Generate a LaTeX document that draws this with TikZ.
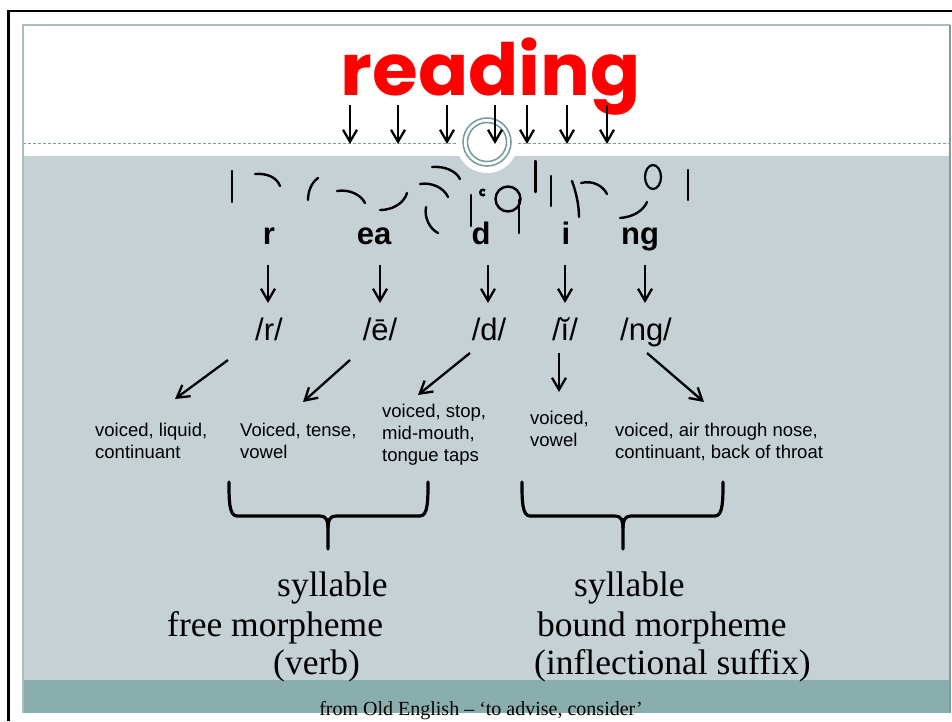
\documentclass[tikz,border=0pt]{standalone}
\usepackage{fontspec}
\setmainfont{Liberation Serif}
\newfontfamily\arialf{Liberation Sans}
\newfontfamily\popf{Poppins}
\usetikzlibrary{arrows.meta}
\definecolor{bodygray}{RGB}{198,209,214}
\definecolor{bandteal}{RGB}{138,173,173}
\definecolor{ringteal}{RGB}{122,158,159}
\definecolor{edgegray}{RGB}{172,188,192}
\definecolor{wordred}{RGB}{255,0,0}
\begin{document}
\begin{tikzpicture}[x=1pt,y=-1pt,
  arr/.style={line width=2.3pt, -{Straight Barb[length=12pt,width=14pt,line width=2.3pt]}},
  scrib/.style={line width=2.4pt, line cap=round},
  bracestroke/.style={line width=3.2pt, line cap=round, line join=round},
  letter/.style={font=\arialf\bfseries\fontsize{31}{31}\selectfont, anchor=base, inner sep=0pt},
  phon/.style={font=\arialf\fontsize{31}{31}\selectfont, anchor=base, inner sep=0pt},
  desc/.style={font=\arialf\fontsize{18.5}{22}\selectfont, anchor=base west, align=left, inner sep=0pt},
  big/.style={font=\fontsize{35.5}{35.5}\selectfont, anchor=base west, inner sep=0pt},
]
\useasboundingbox (0,0) rectangle (952,721);
\fill[white] (0,0) rectangle (952,721);
% slide background
\fill[bodygray] (23,156) rectangle (950,680);
\fill[bandteal] (23,680) rectangle (950,713);
\draw[ringteal, dash pattern=on 3pt off 2pt, line width=0.8pt] (23,143) -- (950,143);
\fill[white] (487,142) circle (31);
\draw[ringteal, line width=1.6pt] (487,142) circle (24);
\draw[ringteal, line width=1.6pt] (487,142) circle (19.5);
\draw[edgegray, line width=1.2pt] (23,713) -- (23,25) -- (950,25);
\draw[ringteal, line width=1.5pt] (950,25) -- (950,713);
\draw[black, line width=2.5pt] (8.5,721) -- (8.5,11) -- (952,11);

% title word
\node[anchor=base, inner sep=0pt, text=wordred, font=\popf\bfseries\fontsize{72}{72}\selectfont] (word) at (491,95) {\scalebox{1.03}[1]{reading}};

% arrows under the word
\foreach \i/\x in {1/350,2/398,3/447,4/495,5/527,6/567,7/607}{
  \coordinate (ts\i) at (\x,105);
  \coordinate (te\i) at (\x,144);
  \draw[arr] (ts\i) -- (te\i);
}

% scribbles
\draw[scrib] (232,171) -- (232,202);
\draw[scrib] (255,174) .. controls (268,173) and (277,178) .. (280,186);
\draw[scrib] (318,178) .. controls (311,183) and (308,192) .. (308,200);
\draw[scrib] (337,191) .. controls (350,189) and (361,195) .. (365,203);
\draw[scrib] (380,210) .. controls (393,210) and (404,203) .. (407,193);
\draw[scrib] (432,167) .. controls (445,166) and (456,171) .. (460,179);
\draw[scrib] (420,184) .. controls (432,182) and (444,188) .. (448,197);
\draw[scrib] (426,207) .. controls (424,218) and (430,229) .. (438,233);
\draw[scrib] (471,195) -- (471,226);
\draw[line width=2.4pt] (483,192.5) ++(45:2.8) arc (45:315:2.8);
\draw[scrib] (508,199) circle (12.5);
\draw[scrib] (519,200) -- (519,233);
\draw[scrib] (535.5,161) -- (535.5,192);
\draw[scrib] (551,176) -- (551,206);
\draw[scrib] (572,181) .. controls (576,192) and (579,205) .. (579,217);
\draw[scrib] (581,183) .. controls (593,180) and (603,186) .. (607,194);
\draw[scrib] (620,218) .. controls (633,217) and (643,211) .. (647,202);
\draw[line width=2.2pt] (653,177) ellipse (8 and 12);
\draw[scrib] (688,170) -- (688,200);

% letters
\node[letter] (L1) at (269,244) {r};
\node[letter] (L2) at (374,244) {ea};
\node[letter] (L3) at (481,244) {d};
\node[letter] (L4) at (566,244) {i};
\node[letter] (L5) at (640,244) {ng};

% phonemes
\node[phon] (P1) at (269,340) {/r/};
\node[phon] (P2) at (380,340) {/ē/};
\node[phon] (P3) at (489,340) {/d/};
\node[phon] (P4) at (565,340) {/ĭ/};
\node[phon] (P5) at (646,340) {/ng/};

\foreach \i/\x in {1/268,2/380,3/488,4/565,5/645}{
  \coordinate (ls\i) at (\x,265);
  \coordinate (le\i) at (\x,303);
  \draw[arr] (ls\i) -- (le\i);
}

% descriptions (anchor is the baseline of the last line)
\node[desc] (D1) at (95,458) {voiced, liquid,\\continuant};
\node[desc] (D2) at (240,458) {Voiced, tense,\\vowel};
\node[desc] (D3) at (382,461) {voiced, stop,\\mid-mouth,\\tongue taps};
\node[desc] (D4) at (530,446) {voiced,\\vowel};
\node[desc] (D5) at (615,458) {voiced, air through nose,\\continuant, back of throat};

\coordinate (ds1) at (228,360); \coordinate (de1) at (175,399);
\coordinate (ds2) at (350,360); \coordinate (de2) at (303,402);
\coordinate (ds3) at (470,353); \coordinate (de3) at (418,395);
\coordinate (ds4) at (559,353); \coordinate (de4) at (559,392);
\coordinate (ds5) at (647,353); \coordinate (de5) at (704,402);
\foreach \i in {1,...,5}{\draw[arr] (ds\i) -- (de\i);}

% braces
\draw[bracestroke] (229,482) .. controls (229,500) and (229,516) .. (237,516) -- (320,516) .. controls (326,516) and (328,520) .. (328,528) -- (328,549);
\draw[bracestroke] (428,482) .. controls (428,500) and (428,516) .. (420,516) -- (336,516) .. controls (330,516) and (328,520) .. (328,528);
\draw[bracestroke] (522,482) .. controls (522,500) and (522,516) .. (530,516) -- (615,516) .. controls (621,516) and (623,520) .. (623,528) -- (623,549);
\draw[bracestroke] (723,482) .. controls (723,500) and (723,516) .. (715,516) -- (631,516) .. controls (625,516) and (623,520) .. (623,528);

% bottom labels
\node[big] (S1) at (277,596) {syllable};
\node[big] (F1) at (167,636) {free morpheme};
\node[big] (V1) at (273,674) {(verb)};
\node[big] (S2) at (574,596) {syllable};
\node[big] (B2) at (537,636) {bound morpheme};
\node[big] (I2) at (534,674) {(inflectional suffix)};

\node[anchor=base, inner sep=0pt, font=\fontsize{20}{20}\selectfont] (foot) at (481,715) {from Old English – ‘to advise, consider’};
\end{tikzpicture}
\end{document}
